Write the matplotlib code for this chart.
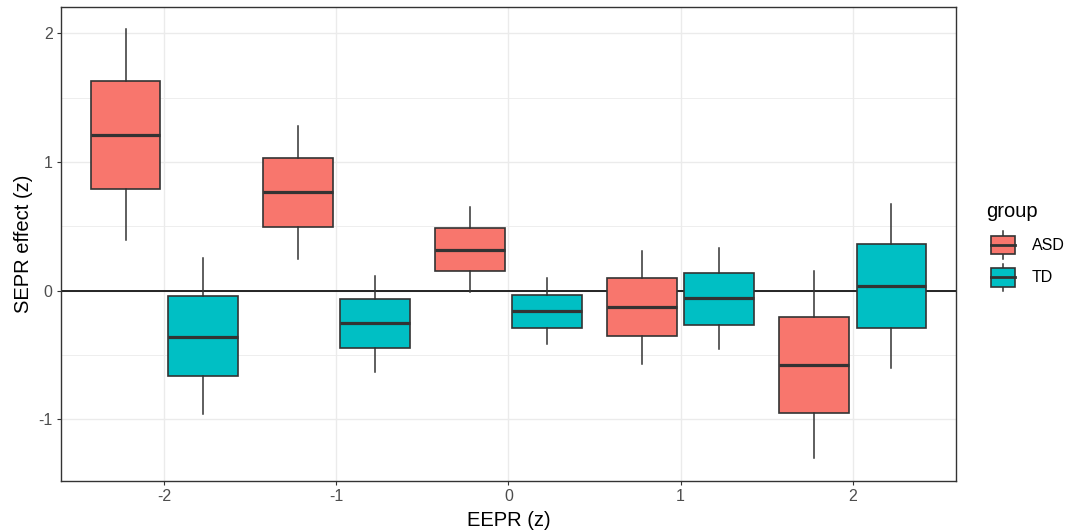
import numpy as np
import matplotlib.pyplot as plt
from matplotlib.patches import Rectangle
from matplotlib.lines import Line2D
from matplotlib.legend_handler import HandlerBase

plt.rcParams['font.family'] = ['Liberation Sans', 'DejaVu Sans']
plt.rcParams['axes.unicode_minus'] = False

# Data
eepr = [-2, -1, 0, 1, 2]
groups = ['ASD', 'TD']
colors = {'ASD': '#F8766D', 'TD': '#00BFC4'}

asd_hi = [2.03, 1.28, 0.648, 0.311, 0.153]
asd_q3 = [1.632, 1.031, 0.485, 0.096, -0.204]
asd_med = [1.21, 0.765, 0.314, -0.129, -0.577]
asd_q1 = [0.79, 0.495, 0.151, -0.352, -0.948]
asd_lo = [0.394, 0.246, -0.01, -0.57, -1.302]

td_hi = [0.252, 0.117, 0.096, 0.332, 0.674]
td_q3 = [-0.044, -0.067, -0.031, 0.14, 0.363]
td_med = [-0.357, -0.253, -0.16, -0.059, 0.037]
td_q1 = [-0.665, -0.445, -0.29, -0.264, -0.287]
td_lo = [-0.96, -0.632, -0.414, -0.455, -0.598]

DODGE = 0.225
BOX_W = 0.405
EDGE = '#333333'


def make_stats(lo, q1, med, q3, hi):
    return [dict(whislo=a, q1=b, med=c, q3=d, whishi=e, fliers=[])
            for a, b, c, d, e in zip(lo, q1, med, q3, hi)]


class BoxKey(HandlerBase):
    # ggplot-like legend key: small box with median and whiskers
    def create_artists(self, legend, orig_handle, xdescent, ydescent,
                       width, height, fontsize, trans):
        x0, y0 = -xdescent + width * 0.16, -ydescent
        w = width * 0.84
        cx = x0 + w / 2
        b0, b1 = y0 + height * 0.17, y0 + height * 0.83
        whisk = Line2D([cx, cx], [y0, y0 + height], color=EDGE, lw=1.1, transform=trans)
        box = Rectangle((x0, b0), w, b1 - b0, facecolor=orig_handle.get_facecolor(),
                        edgecolor=EDGE, lw=1.2, transform=trans)
        med = Line2D([x0, x0 + w], [y0 + height / 2] * 2, color=EDGE, lw=2.0, transform=trans)
        return [whisk, box, med]


fig = plt.figure(figsize=(10.67, 5.31), dpi=100)
ax = fig.add_axes([61 / 1067, 1 - 481 / 531, (956 - 61) / 1067, (481 - 7) / 531])

ax.axhline(0, color='black', lw=1.2, zorder=1.5)

x = np.array(eepr, dtype=float)
boxkw = dict(widths=BOX_W, patch_artist=True, showcaps=False, showfliers=False,
             whiskerprops=dict(color=EDGE, lw=1.1),
             medianprops=dict(color=EDGE, lw=2.3, solid_capstyle='butt'),
             manage_ticks=False, zorder=2)

b1 = ax.bxp(make_stats(asd_lo, asd_q1, asd_med, asd_q3, asd_hi), positions=x - DODGE,
            boxprops=dict(facecolor=colors['ASD'], edgecolor=EDGE, lw=1.2), **boxkw)
b2 = ax.bxp(make_stats(td_lo, td_q1, td_med, td_q3, td_hi), positions=x + DODGE,
            boxprops=dict(facecolor=colors['TD'], edgecolor=EDGE, lw=1.2), **boxkw)

ax.set_xlim(-2.6, 2.6)
ax.set_ylim(-1.479, 2.204)
ax.set_xticks(eepr)
ax.set_xticklabels([str(v) for v in eepr])
ax.set_yticks([-1, 0, 1, 2])
ax.set_yticklabels(['-1', '0', '1', '2'])
ax.set_yticks([-0.5, 0.5, 1.5], minor=True)

ax.set_axisbelow(True)
ax.grid(True, which='major', color='#EBEBEB', lw=1.0)
ax.grid(True, which='minor', axis='y', color='#EBEBEB', lw=0.6)
ax.tick_params(which='major', length=3, width=0.8, color=EDGE, labelcolor='#4D4D4D',
               labelsize=11.5, pad=3)
ax.tick_params(which='minor', length=0)
for s in ax.spines.values():
    s.set_color(EDGE)
    s.set_linewidth(1.0)

ax.set_xlabel('EEPR (z)', fontsize=14.5, labelpad=5)
ax.set_ylabel('SEPR effect (z)', fontsize=14.5, labelpad=4)

handles = [Rectangle((0, 0), 1, 1, facecolor=colors[g]) for g in groups]
leg = fig.legend(handles, groups, title='group', loc='upper left',
                 bbox_to_anchor=(986 / 1067, 1 - 202 / 531), frameon=False,
                 fontsize=11.5, title_fontsize=14.5, handler_map={Rectangle: BoxKey()},
                 handlelength=1.8, handleheight=2.3, labelspacing=0.27, handletextpad=1.08,
                 borderpad=0, borderaxespad=0, alignment='left')
leg._legend_box.sep = 7.5  # gap between title and keys

fig.savefig('out.png', dpi=100)
